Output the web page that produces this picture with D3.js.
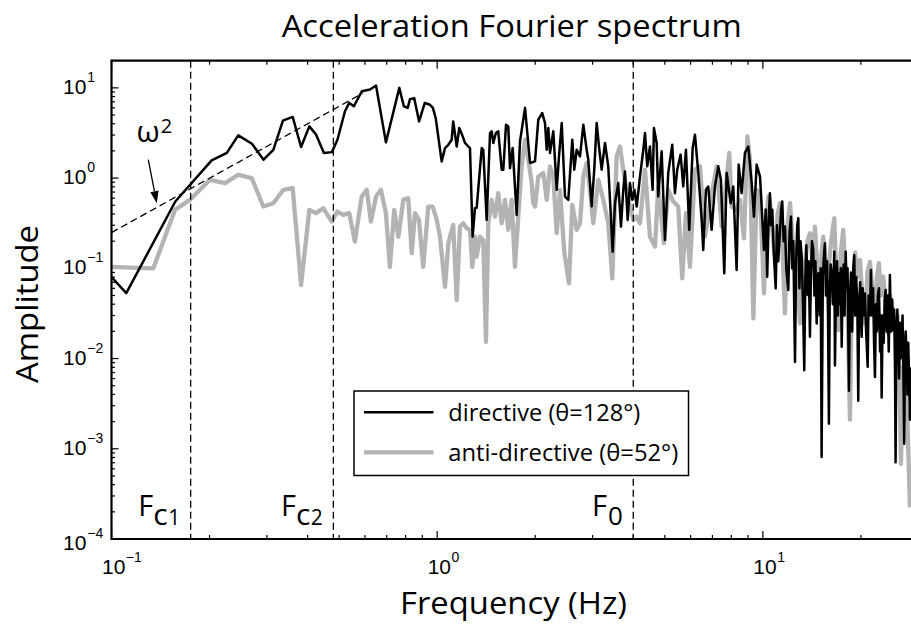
<!DOCTYPE html>
<html><head><meta charset="utf-8">
<script src="https://cdn.jsdelivr.net/npm/d3@7/dist/d3.min.js"></script>
<style>body{margin:0;background:#fff}svg{display:block}</style>
</head><body>
<svg id="c" width="911" height="624"></svg>
<script>
// ---------- data ----------
const freqDir = [0.100,0.111,0.157,0.203,0.226,0.245,0.270,0.293,0.314,0.336,0.360,0.382,0.405,0.425,0.449,0.475,0.494,0.521,0.537,0.555,0.587,0.622,0.649,0.696,0.765,0.790,0.812,0.825,0.850,0.880,0.916,0.950,0.970,0.990,
1.032,1.057,1.082,1.108,1.120,1.148,1.169,1.198,1.217,1.246,1.261,1.285,1.306,1.322,1.370,1.385,1.419,1.453,1.470,1.487,1.515,1.540,1.578,1.596,1.627,1.653,1.673,1.705,1.754,1.796,1.861,1.928,1.997,
2.044,2.102,2.143,2.169,2.194,2.220,2.273,2.328,2.366,2.412,2.469,2.527,2.599,2.636,2.682,2.745,2.810,2.877,2.910,2.981,3.036,3.088,3.139,3.199,3.275,3.352,3.458,3.515,3.597,3.667,3.727,3.772,3.845,3.908,3.972,
4.035,4.098,4.195,4.294,4.346,4.416,4.501,4.587,4.629,4.719,4.772,4.889,5.004,5.122,5.269,5.371,5.459,5.591,5.695,5.805,5.943,6.087,6.187,6.334,6.488,6.561,6.687,6.797,6.962,7.126,7.295,7.436,7.612,7.742,7.963,
8.111,8.308,8.427,8.607,8.81,9.02,9.24,9.39,9.57,9.80,
10.08,10.20,10.31,10.42,10.51,10.60,10.69,10.80,10.95,11.05,11.15,11.29,11.38,11.47,11.58,11.69,11.80,11.97,12.08,12.20,12.30,12.40,12.55,12.65,12.75,12.85,12.95,13.05,13.16,13.28,13.40,13.50,13.60,13.73,13.83,13.95,
14.05,14.15,14.28,14.40,14.50,14.63,14.72,14.80,14.95,15.05,15.15,15.28,15.40,15.51,15.62,15.75,15.85,15.95,16.05,16.15,16.26,16.40,16.57,16.65,16.78,16.90,17.00,17.13,17.25,17.35,17.46,17.58,17.70,17.82,17.96,
18.08,18.20,18.38,18.50,18.65,18.80,18.95,19.08,19.20,19.35,19.50,19.63,19.75,19.90,20.11,20.25,20.40,20.58,20.75,20.98,21.12,21.30,21.47,21.62,21.80,21.95,22.09,22.25,22.40,22.55,22.72,22.90,23.05,23.16,23.32,
23.50,23.66,23.82,24.00,24.15,24.35,24.55,24.75,24.95,25.13,25.30,25.45,25.56,25.70,25.88,26.04,26.20,26.35,26.50,26.67,26.85,27.00,27.17,27.30,27.45,27.64,27.80,27.95,28.12,28.29,28.45];
const ampDir = [0.08,0.053,0.55,1.57,1.90,2.97,2.40,1.60,2.06,4.33,4.76,2.21,3.74,3.03,1.90,1.94,2.66,5.50,6.81,6.25,9.17,9.58,10.6,2.49,10.0,6.25,6.0,7.5,7.7,4.25,6.8,6.5,6.0,4.6,
1.53,2.15,2.34,2.66,4.25,2.24,3.59,2.90,2.45,2.24,2.15,0.224,0.464,0.468,2.15,2.06,0.344,3.16,3.30,2.45,3.16,3.30,1.24,1.24,3.91,3.74,1.29,2.15,0.391,2.55,6.0,1.47,1.53,
4.44,5.27,4.08,2.06,3.59,1.90,3.30,0.741,1.74,4.08,0.625,0.574,2.66,1.24,2.06,1.74,3.91,2.06,1.60,0.484,1.24,4.08,2.24,1.24,2.45,1.35,0.153,0.527,0.88,0.29,0.741,1.18,0.344,0.88,0.574,
0.741,0.484,1.04,2.06,3.16,1.35,2.24,0.741,3.59,2.45,0.625,1.98,0.206,1.14,2.34,0.681,1.24,1.82,0.807,2.06,0.267,2.15,3.03,1.14,0.344,0.16,0.741,0.807,0.267,0.807,1.35,0.957,0.088,1.14,0.527,
0.807,0.0958,1.41,0.681,1.90,2.24,0.88,0.374,1.41,1.04,
0.16,0.45,0.0807,0.35,0.681,0.30,0.445,0.15,0.06,0.30,0.12,0.267,0.45,0.55,0.20,0.29,0.10,0.0574,0.25,0.374,0.10,0.20,0.00917,0.12,0.30,0.36,0.06,0.20,0.135,0.04,0.0074,0.08,0.18,0.0505,0.12,0.0174,
0.09,0.20,0.16,0.05,0.12,0.0245,0.06,0.088,0.03,0.10,0.00081,0.08,0.14,0.19,0.05,0.12,0.03,0.0019,0.06,0.11,0.088,0.04,0.153,0.0084,0.07,0.12,0.03,0.088,0.04,0.10,0.0135,0.07,0.11,0.03,0.153,
0.06,0.10,0.0044,0.05,0.09,0.02,0.10,0.14,0.03,0.08,0.04,0.0034,0.04,0.07,0.0174,0.06,0.03,0.0527,0.02,0.0081,0.05,0.03,0.0958,0.03,0.06,0.015,0.00625,0.04,0.02,0.05,0.06,0.012,0.03,0.0037,0.03,
0.015,0.045,0.0574,0.02,0.05,0.012,0.0843,0.02,0.045,0.0206,0.035,0.008,0.00071,0.02,0.035,0.0167,0.006,0.025,0.01,0.0153,0.03,0.008,0.00114,0.012,0.02,0.0104,0.004,0.015,0.006,0.0021,0.008];

const freqAnti = [0.100,0.1344,0.1567,0.1742,0.2006,0.2232,0.2451,0.2695,0.2925,0.314,0.337,0.360,0.382,0.405,0.4245,0.447,0.4745,0.4935,0.515,0.537,0.559,0.5865,0.6076,0.626,0.649,0.672,0.696,0.716,0.738,0.760,0.787,0.815,0.835,0.855,0.879,0.906,0.939,0.969,0.997,
1.020,1.057,1.082,1.120,1.148,1.175,1.203,1.232,1.261,1.282,1.306,1.322,1.353,1.385,1.412,1.435,1.470,1.505,1.540,1.578,1.615,1.653,1.693,1.733,1.774,1.817,1.861,1.905,1.951,1.972,1.997,
2.044,2.118,2.169,2.220,2.273,2.328,2.382,2.456,2.539,2.599,2.682,2.745,2.810,2.877,2.945,3.015,3.124,3.236,3.352,3.449,3.557,3.641,3.727,3.862,4.002,4.098,4.195,4.346,4.501,4.665,4.772,4.970,
5.122,5.307,5.498,5.656,5.805,5.972,6.187,6.411,6.643,6.880,7.214,7.472,7.884,8.02,8.27,8.51,8.75,8.96,9.13,9.35,9.57,9.80,
10.08,10.22,10.39,10.51,10.70,10.89,11.10,11.29,11.50,11.69,11.90,12.12,12.35,12.55,12.78,13.00,13.25,13.47,13.70,13.95,14.20,14.45,14.70,14.97,15.15,15.33,15.60,15.88,16.20,16.57,16.80,17.04,17.35,17.65,17.90,
18.20,18.51,18.70,18.95,19.20,19.50,19.87,20.20,20.58,20.95,21.32,21.70,22.09,22.40,22.72,23.05,23.42,23.85,24.27,24.55,24.86,25.20,25.56,25.90,26.20,26.55,26.95,27.31,27.80,28.29];
const ampAnti = [0.104,0.100,0.445,0.574,0.957,0.88,1.09,1.0,0.484,0.527,0.741,0.774,0.0652,0.445,0.409,0.464,0.33,0.425,0.391,0.409,0.198,0.625,0.741,0.33,0.625,0.741,0.409,0.104,0.445,0.224,0.574,0.60,0.147,0.409,0.344,0.104,0.484,0.484,0.344,
0.224,0.0625,0.19,0.303,0.0445,0.29,0.316,0.278,0.267,0.104,0.224,0.135,0.224,0.206,0.0153,0.316,0.574,0.374,0.681,0.316,0.574,0.267,0.574,0.104,0.374,1.35,2.66,1.60,0.88,0.527,0.484,
1.04,1.14,0.574,1.35,1.04,0.245,0.741,0.153,0.068,0.505,0.267,0.316,1.04,1.47,0.741,0.316,0.957,0.574,0.316,0.0774,1.74,2.24,1.24,0.574,0.344,0.374,0.316,1.24,0.224,0.174,0.807,0.19,
0.741,0.55,0.484,0.0774,0.409,0.104,1.24,1.35,0.224,0.527,1.35,0.29,1.90,0.484,0.445,0.574,0.215,2.90,1.60,0.0278,0.741,0.681,
0.0527,0.30,0.625,0.574,0.25,0.135,0.40,0.527,0.15,0.0316,0.30,0.527,0.20,0.135,0.08,0.0245,0.12,0.104,0.20,0.245,0.12,0.29,0.10,0.0445,0.15,0.224,0.10,0.088,0.20,0.36,0.08,0.0206,0.15,0.267,0.10,
0.04,0.0021,0.03,0.0574,0.15,0.08,0.124,0.05,0.0245,0.09,0.118,0.06,0.0344,0.08,0.114,0.05,0.0807,0.04,0.019,0.05,0.0374,0.025,0.019,0.03,0.01,0.00068,0.008,0.0044,0.002,0.000224];

const cornerFreqs = [0.175, 0.48, 4.0];
const cornerLabels = [["F","c","1"],["F","c","2"],["F","0",""]];
const omegaLine = [[0.1, 0.249],[0.59, 8.7]];       // ω² reference slope
const omegaArrow = [[0.1297, 1.60],[0.1377, 0.527]];
const xMajor = [0.1, 1, 10];
const xMajorExp = ["\u22121","0","1"];
const yMajor = [1e-4,1e-3,1e-2,1e-1,1,10];
const yMajorExp = ["\u22124","\u22123","\u22122","\u22121","0","1"];
const seriesNames = ["directive (\u03b8=128\u00b0)","anti-directive (\u03b8=52\u00b0)"];
const titleText = "Acceleration Fourier spectrum";
const xLabel = "Frequency (Hz)";
const yLabel = "Amplitude";

// ---------- layout ----------
const svg = d3.select("#c");
const L=111.5, R=911, T=60.7, B=539;
const x = d3.scaleLog().domain([0.1, 28.5]).range([L, R]);
const y = d3.scaleLog().domain([1e-4, 20]).range([B, T]);
const MYR = "'Open Sans','Noto Sans',sans-serif";
const HEL = "'Liberation Sans',Arial,sans-serif";

svg.append("defs").append("clipPath").attr("id","pc")
  .append("rect").attr("x",L).attr("y",T).attr("width",R-L).attr("height",B-T);

const xMinor=[], yMinor=[];
for (let e=-1;e<=1;e++) for (let k=2;k<=9;k++){ const v=k*Math.pow(10,e); if(v<28.5) xMinor.push(v);}
for (let e=-4;e<=1;e++) for (let k=2;k<=9;k++){ const v=k*Math.pow(10,e); if(v<20) yMinor.push(v);}

const gAx = svg.append("g");
function ticksX(vals,len){
  gAx.selectAll(null).data(vals).enter().append("line")
    .attr("x1",d=>x(d)).attr("x2",d=>x(d)).attr("y1",B).attr("y2",B-len)
    .attr("stroke","#000").attr("stroke-width",1.2);
  gAx.selectAll(null).data(vals).enter().append("line")
    .attr("x1",d=>x(d)).attr("x2",d=>x(d)).attr("y1",T).attr("y2",T+len)
    .attr("stroke","#000").attr("stroke-width",1.2);
}
function ticksY(vals,len){
  gAx.selectAll(null).data(vals).enter().append("line")
    .attr("x1",L).attr("x2",L+len).attr("y1",d=>y(d)).attr("y2",d=>y(d))
    .attr("stroke","#000").attr("stroke-width",1.2);
}
ticksX(xMajor,8); ticksX(xMinor,4);
ticksY(yMajor,7); ticksY(yMinor,3.5);

// ---------- series ----------
const line = d3.line().x(d=>x(d[0])).y(d=>y(d[1]));
const gp = svg.append("g").attr("clip-path","url(#pc)");
gp.append("path").datum(freqAnti.map((f,i)=>[f,ampAnti[i]]))
  .attr("d",line).attr("fill","none").attr("stroke","#b3b3b3")
  .attr("stroke-width",4.3).attr("stroke-linejoin","round");
gp.append("path").datum(freqDir.map((f,i)=>[f,ampDir[i]]))
  .attr("d",line).attr("fill","none").attr("stroke","#000")
  .attr("stroke-width",2.5).attr("stroke-linejoin","round");

gp.append("path").datum(omegaLine).attr("d",line).attr("fill","none")
  .attr("stroke","#000").attr("stroke-width",1.3).attr("stroke-dasharray","7,4");

svg.selectAll(null).data(cornerFreqs).enter().append("line")
  .attr("x1",d=>x(d)).attr("x2",d=>x(d)).attr("y1",T).attr("y2",B)
  .attr("stroke","#000").attr("stroke-width",1.3).attr("stroke-dasharray","7,4");

// spines
svg.append("line").attr("x1",L).attr("x2",R).attr("y1",B).attr("y2",B).attr("stroke","#000").attr("stroke-width",2.2);
svg.append("line").attr("x1",L).attr("x2",R).attr("y1",T).attr("y2",T).attr("stroke","#000").attr("stroke-width",2.2);
svg.append("line").attr("x1",L).attr("x2",L).attr("y1",T-1.1).attr("y2",B+1.1).attr("stroke","#000").attr("stroke-width",2.2);

// tick labels
xMajor.forEach((v,i)=>{
  const x0 = x(v)-9.5;
  svg.append("text").attr("x",x0).attr("y",574).attr("font-family",HEL).attr("font-size",21).text("10");
  svg.append("text").attr("x",x0+23.8).attr("y",562).attr("font-family",HEL).attr("font-size",14).text(xMajorExp[i]);
});
yMajor.forEach((v,i)=>{
  const yb = y(v) + (i===0 ? 11 : 6);
  svg.append("text").attr("x",63).attr("y",yb).attr("font-family",HEL).attr("font-size",21).text("10");
  svg.append("text").attr("x",87.3).attr("y",yb-12).attr("font-family",HEL).attr("font-size",14).text(yMajorExp[i]);
});

// corner labels
cornerFreqs.forEach((f,i)=>{
  const lab = cornerLabels[i];
  const t = svg.append("text").attr("x",x(f)-10.5).attr("y",516).attr("text-anchor","end")
    .attr("font-family",MYR).attr("fill","#000");
  t.append("tspan").attr("font-size",29).text(lab[0]);
  if (lab[2]) {
    t.append("tspan").attr("font-size",30).attr("dy",8.5).text(lab[1]);
    t.append("tspan").attr("font-size",21).attr("dx",0.5).text(lab[2]);
  } else {
    t.append("tspan").attr("font-size",26).attr("dy",8.5).attr("dx",1).text(lab[1]);
  }
});

// ω² annotation
const om = svg.append("text").attr("x",136.5).attr("y",141.7).attr("font-family",MYR);
om.append("tspan").attr("font-size",30).text("\u03c9");
om.append("tspan").attr("font-size",20).attr("dy",-8.5).attr("dx",1).text("2");
{
  const [a,b] = omegaArrow;
  const x1=x(a[0]), y1=y(a[1]), x2=x(b[0]), y2=y(b[1]);
  const ang = Math.atan2(y2-y1,x2-x1), hl=12, hw=4.2;
  const bx = x2-hl*Math.cos(ang), by = y2-hl*Math.sin(ang);
  svg.append("line").attr("x1",x1).attr("y1",y1).attr("x2",bx).attr("y2",by).attr("stroke","#000").attr("stroke-width",1.3);
  svg.append("path").attr("d",`M${x2},${y2}L${bx+hw*Math.sin(ang)},${by-hw*Math.cos(ang)}L${bx-hw*Math.sin(ang)},${by+hw*Math.cos(ang)}Z`).attr("fill","#000");
}

// legend
const lg = svg.append("g");
lg.append("rect").attr("x",354).attr("y",391).attr("width",334.5).attr("height",84.5)
  .attr("fill","#fff").attr("stroke","#000").attr("stroke-width",1.5);
const legColors=["#000","#b3b3b3"], legW=[2.5,4.3], legWidths=[192,230];
seriesNames.forEach((n,i)=>{
  const yy = 412.3 + i*40;
  lg.append("line").attr("x1",364).attr("x2",433.5).attr("y1",yy).attr("y2",yy)
    .attr("stroke",legColors[i]).attr("stroke-width",legW[i]);
  lg.append("text").attr("x",448.3).attr("y",yy+8.4).attr("font-family",MYR).attr("font-size",23)
    .attr("textLength",legWidths[i]).attr("lengthAdjust","spacingAndGlyphs").text(n);
});

// titles
svg.append("text").attr("x",281.7).attr("y",37.3).attr("font-family",MYR).attr("font-size",31)
  .attr("textLength",460).attr("lengthAdjust","spacingAndGlyphs").text(titleText);
svg.append("text").attr("x",400).attr("y",614).attr("font-family",MYR).attr("font-size",31)
  .attr("textLength",227).attr("lengthAdjust","spacingAndGlyphs").text(xLabel);
svg.append("text").attr("transform","translate(37.5,383) rotate(-90)").attr("font-family",MYR).attr("font-size",31)
  .attr("textLength",158).attr("lengthAdjust","spacingAndGlyphs").text(yLabel);
</script>
</body></html>
